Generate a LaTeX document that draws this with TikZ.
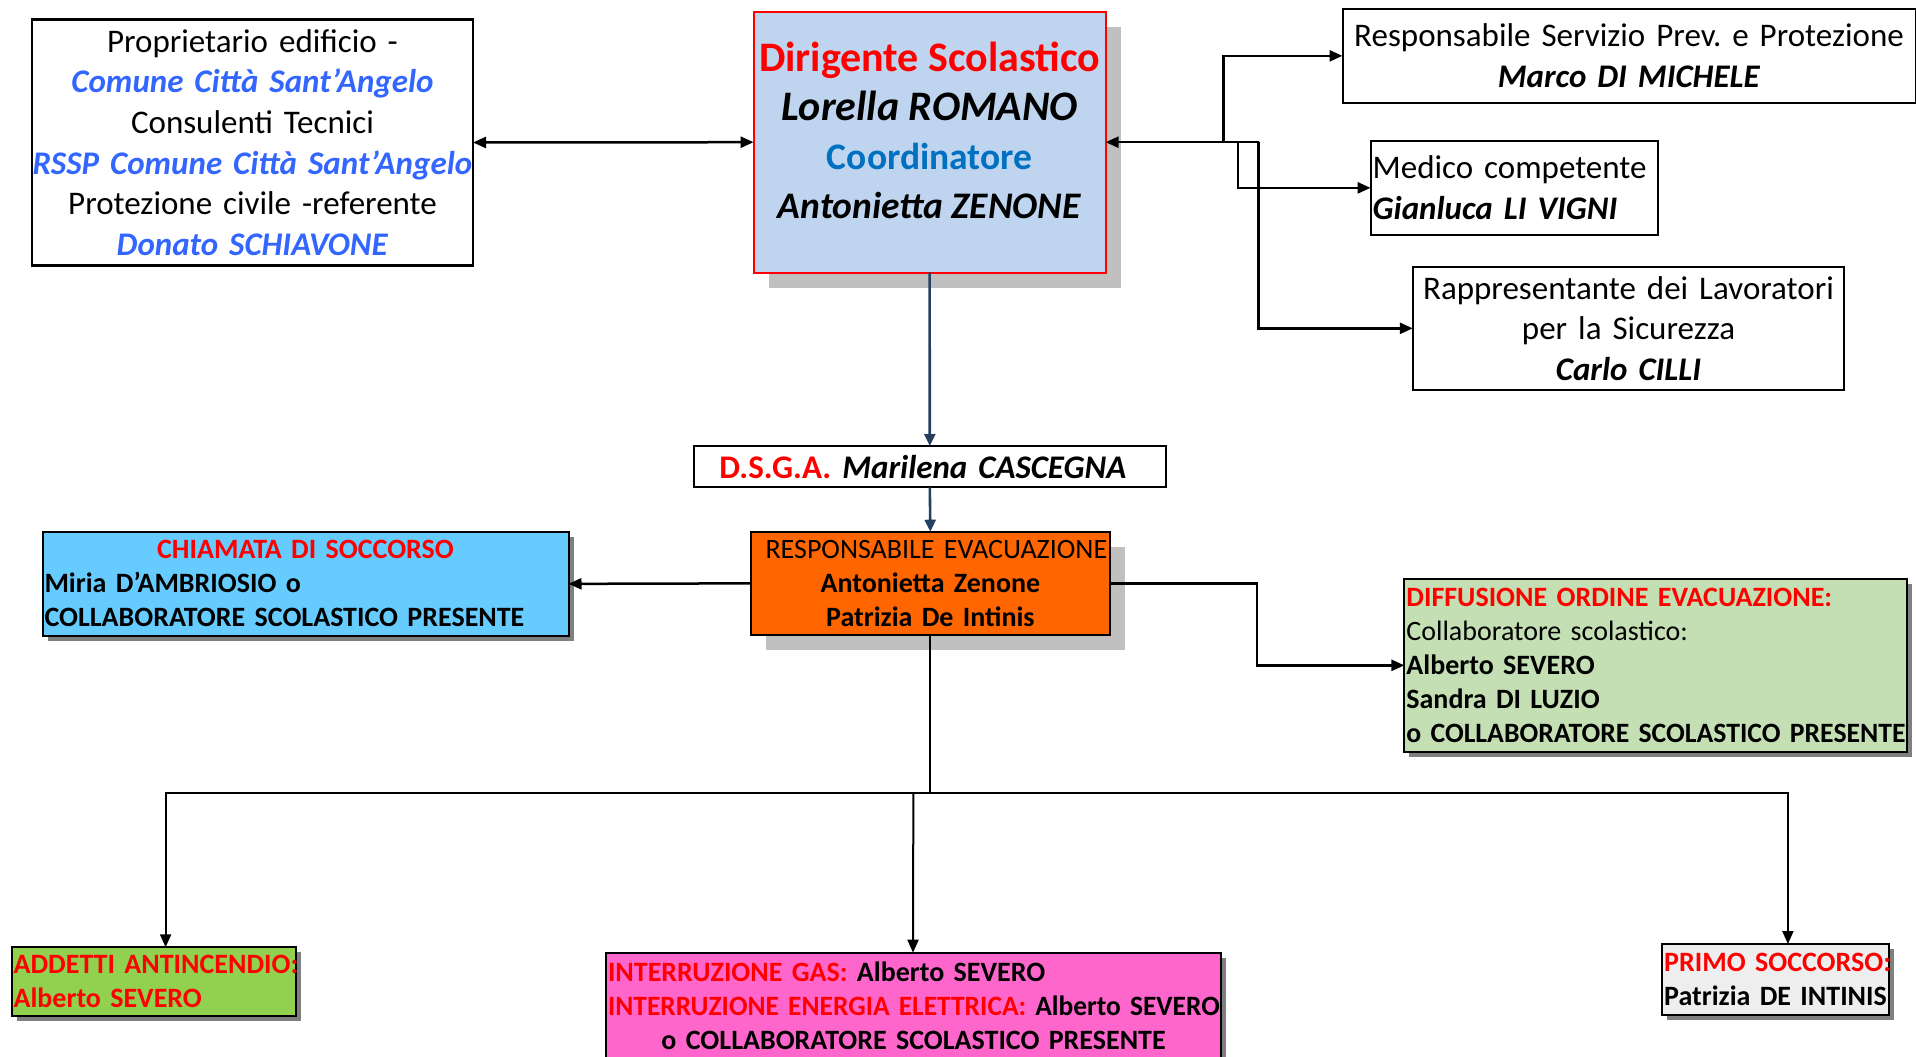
\documentclass[tikz,border=0pt]{standalone}
\usepackage{fontspec}
\usepackage{graphicx}
\setmainfont{Carlito}
\usetikzlibrary{arrows.meta,shadows,calc}
\definecolor{cred}{HTML}{FF0000}
\definecolor{cblue}{HTML}{3366FF}
\definecolor{ccoord}{HTML}{0070C0}
\definecolor{dirfill}{HTML}{BFD4EE}
\definecolor{orangefill}{HTML}{FF6600}
\definecolor{bluefill}{HTML}{66CCFF}
\definecolor{greenfill}{HTML}{C4DFB4}
\definecolor{limefill}{HTML}{92D050}
\definecolor{pinkfill}{HTML}{FF66CC}
\definecolor{grayfill}{HTML}{EEEEEE}
\definecolor{shlight}{HTML}{C0C0C0}
\definecolor{shdark}{HTML}{7F7F7F}
\definecolor{navy}{HTML}{243F60}
\newcommand\szA{\fontsize{33}{40.6}\selectfont}
\newcommand\szB{\fontsize{42}{49}\selectfont}
\newcommand\szBs{\fontsize{37.5}{49}\selectfont}
\newcommand\szC{\fontsize{28}{34}\selectfont}
\newcommand\bfit[1]{\textbf{\textit{#1}}}
\newcommand\Ll[1]{\makebox[\hsize][l]{#1}}
\newcommand\Cl[1]{\makebox[\hsize][c]{#1}}
\frenchspacing
\tikzset{
  box/.style={draw, line width=2pt, anchor=north west, inner xsep=2pt, inner ysep=0pt, outer sep=0pt, align=left},
  bigshadow/.style={drop shadow={shadow xshift=15pt, shadow yshift=-15pt, opacity=1, fill=shlight}},
  smallshadow/.style={drop shadow={shadow xshift=5pt, shadow yshift=-5pt, opacity=1, fill=shdark}},
  arr/.style={line width=2.5pt, -{Triangle[length=13pt,width=11pt]}},
  darr/.style={line width=2.5pt, {Triangle[length=13pt,width=11pt]}-{Triangle[length=13pt,width=11pt]}},
  arrb/.style={line width=2pt, -{Triangle[length=13pt,width=11pt]}},
  navyarr/.style={draw=navy, fill=navy, line width=2.6pt, -{Triangle[length=12pt,width=11pt]}},
}
\begin{document}
\begin{tikzpicture}[x=1pt,y=-1pt]
\fill[white] (0,0) rectangle (1916,1057);
\useasboundingbox (0,0) rectangle (1916,1057);

% top left
\node[box, line width=2.5pt, minimum width=441pt, minimum height=246pt, text width=437pt, font=\szA] (prop) at (32,19.5)
 {\Cl{Proprietario edificio -}\\
  \Cl{\textcolor{cblue}{\bfit{Comune Città Sant’Angelo}}}\\
  \Cl{Consulenti Tecnici}\\
  \Cl{\textcolor{cblue}{\bfit{RSSP Comune Città Sant’Angelo}}}\\
  \Cl{Protezione civile -referente}\\
  \Cl{\textcolor{cblue}{\bfit{Donato SCHIAVONE}}}};

% dirigente
\node[box, draw=cred, fill=dirfill, bigshadow, minimum width=352pt, minimum height=261pt] (dir) at (753.6,11.7) {};
\node[align=center, font=\szB, inner sep=0pt] (dirt) at ($(dir.center)+(0,-12)$)
 {\textcolor{cred}{\textbf{Dirigente Scolastico}}\\
  \bfit{Lorella ROMANO}\\
  {\szBs\textcolor{ccoord}{\textbf{Coordinatore}}}\\
  {\szBs\bfit{Antonietta ZENONE}}};

% right boxes
\node[box, minimum width=573pt, minimum height=93.7pt, text width=569pt, font=\szA] (rspp) at (1342.5,9)
 {\Cl{Responsabile Servizio Prev. e Protezione}\\ \Cl{\bfit{Marco DI MICHELE}}\\[-6pt]};
\node[box, minimum width=287.3pt, minimum height=94.3pt, text width=283.3pt, font=\szA] (med) at (1370.6,140.7)
 {\Ll{Medico competente}\\ \Ll{\bfit{Gianluca LI VIGNI}}};
\node[box, minimum width=431.4pt, minimum height=123.3pt, text width=427.4pt, font=\szA] (rls) at (1412.8,266.7)
 {\Cl{Rappresentante dei Lavoratori}\\ \Cl{per la Sicurezza}\\ \Cl{\bfit{Carlo CILLI}}};

% dsga
\node[box, minimum width=472pt, minimum height=41.3pt, text width=468pt, font=\szA] (dsga) at (693.8,446)
 {\Cl{\textcolor{cred}{\textbf{D.S.G.A.}} \bfit{Marilena CASCEGNA}\hspace{14pt}}};

% responsabile evacuazione
\node[box, fill=orangefill, bigshadow, minimum width=358.7pt, minimum height=103.3pt, text width=354.7pt, font=\szC] (resp) at (751,531.7)
 {\Cl{\hspace{12pt}RESPONSABILE EVACUAZIONE}\\ \Cl{\textbf{Antonietta Zenone}}\\ \Cl{\textbf{Patrizia De Intinis}}};

% chiamata
\node[box, fill=bluefill, smallshadow, minimum width=526pt, minimum height=104.3pt, text width=522pt, font=\szC] (chia) at (42.5,531.7)
 {\Cl{\textcolor{cred}{\textbf{CHIAMATA DI SOCCORSO}}}\\
  \Ll{\textbf{Miria D’AMBRIOSIO o}}\\
  \Ll{\textbf{COLLABORATORE SCOLASTICO PRESENTE}}};

% diffusione
\node[box, fill=greenfill, smallshadow, minimum width=502.2pt, minimum height=172.7pt, text width=498.2pt, font=\szC] (diff) at (1404.4,579)
 {\Ll{\textcolor{cred}{\textbf{DIFFUSIONE ORDINE EVACUAZIONE:}}}\\
  \Ll{Collaboratore scolastico:}\\
  \Ll{\textbf{Alberto SEVERO}}\\
  \Ll{\textbf{Sandra DI LUZIO}}\\
  \Ll{\scalebox{0.99}[1]{\textbf{o COLLABORATORE SCOLASTICO PRESENTE}}}};

% bottom boxes
\node[box, fill=limefill, smallshadow, minimum width=284.4pt, minimum height=68.4pt, text width=280.4pt, font=\szC] (add) at (11.6,947.3)
 {\Ll{\textcolor{cred}{\textbf{ADDETTI ANTINCENDIO:}}}\\ \Ll{\textcolor{cred}{\textbf{Alberto SEVERO}}}};
\node[box, fill=pinkfill, smallshadow, minimum width=615.2pt, minimum height=107pt, text width=611.2pt, font=\szC] (pink) at (606,952.7)
 {\Ll{\textcolor{cred}{\textbf{INTERRUZIONE GAS:}} \textbf{Alberto SEVERO}}\\
  \Ll{\scalebox{0.98}[1]{\textcolor{cred}{\textbf{INTERRUZIONE ENERGIA ELETTRICA:}} \textbf{Alberto SEVERO}}}\\
  \Cl{\textbf{o COLLABORATORE SCOLASTICO PRESENTE}}};
\node[box, fill=grayfill, smallshadow, minimum width=227.1pt, minimum height=71.3pt, text width=223.1pt, font=\szC] (primo) at (1662.2,944)
 {\Ll{\textcolor{cred}{\textbf{PRIMO SOCCORSO:}}}\\ \Ll{\textbf{Patrizia DE INTINIS}}};

% connectors top
\draw[darr] (prop.east) -- (dir.west);
\coordinate (h) at ($(dir.east)+(153,0)$);
\draw[arr] (h) -- (dir.east);
\draw[arr] ($(dir.east)+(118,0)$) |- (rspp.west);
\draw[arr] ($(dir.east)+(132.5,0)$) |- (med.west);
\draw[arr] (h) |- (rls.west);

% vertical navy
\draw[navyarr] (dir.south) -- (dsga.north);
\draw[navyarr] (dsga.south) -- (resp.north);

% side
\draw[arr] (resp.west) -- (chia.east);
\draw[arr] (resp.east) -- ++(147.5,0) |- (diff.west);

% bottom distribution
\draw[line width=2pt] (resp.south) -- ++(0,158) coordinate (jb);
\draw[arrb] (jb) -| ($(add.north west)+(154,0)$);
\draw[arrb] (jb) -| ($(primo.north west)+(125.7,0)$);
\draw[arrb] ($(jb)+(-17,0)$) -- ($(pink.north west)+(307,0)$);
\end{tikzpicture}
\end{document}
